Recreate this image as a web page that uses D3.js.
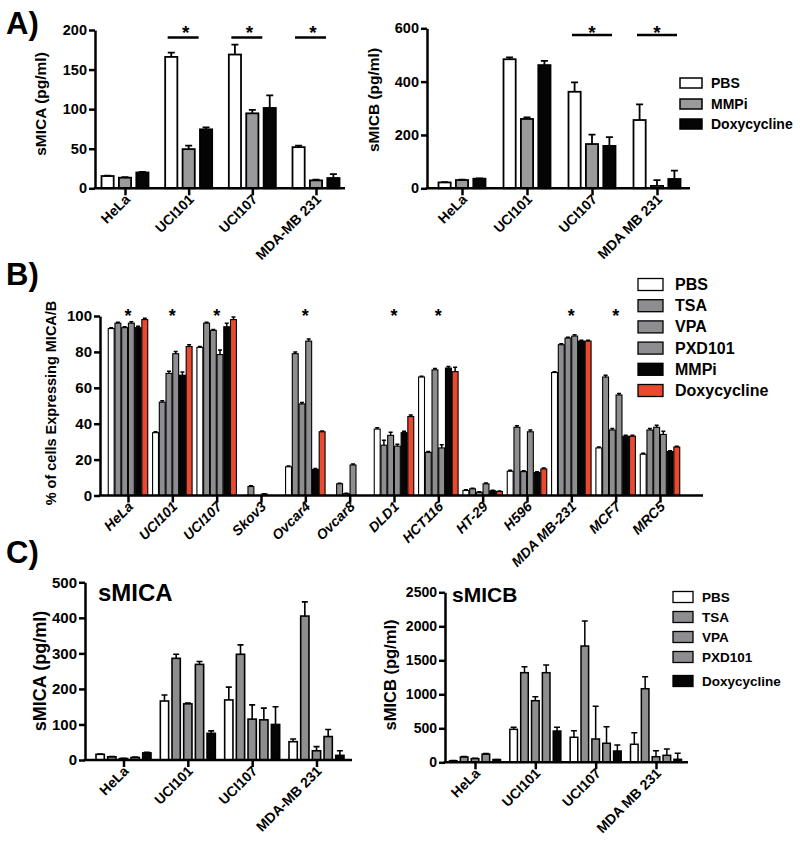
<!DOCTYPE html>
<html><head><meta charset="utf-8">
<script src="https://cdn.jsdelivr.net/npm/d3@7"></script>
<style>
body{margin:0;background:#fff}
svg{display:block}
text{font-family:"Liberation Sans",Arial,Helvetica,sans-serif;font-weight:bold;fill:#000}
</style>
</head><body>
<svg id="c" width="800" height="849"></svg>
<script>
// ---------- Panel A (sMICA / sMICB) ----------
const groupsA1 = ["HeLa","UCI101","UCI107","MDA-MB 231"];
const groupsA2 = ["HeLa","UCI101","UCI107","MDA MB 231"];
const seriesA = ["PBS","MMPi","Doxycycline"];
const aMicaPBS = [15.5,166,169,52],  aMicaPBSErr = [0.6,5.5,12.5,2];
const aMicaMMPi = [13.4,49.5,94.7,10], aMicaMMPiErr = [0.6,4.3,4.3,1];
const aMicaDoxy = [20,74.5,101.5,13], aMicaDoxyErr = [0.8,2.5,16,5];
const aMicaTicks = [0,50,100,150,200];
const aMicaStars = ["UCI101","UCI107","MDA-MB 231"];
const aMicbPBS = [22,484,362,256],  aMicbPBSErr = [1,7,35,59];
const aMicbMMPi = [31,260,166,9],   aMicbMMPiErr = [1,6,35,22];
const aMicbDoxy = [36,462,159,35],  aMicbDoxyErr = [1,16,33,31];
const aMicbTicks = [0,200,400,600];
const aMicbStars = ["UCI107","MDA MB 231"];

// ---------- Panel B (% cells expressing MICA/B) ----------
const groupsB = ["HeLa","UCI101","UCI107","Skov3","Ovcar4","Ovcar8","DLD1","HCT116","HT-29","H596","MDA MB-231","MCF7","MRC5"];
const seriesB = ["PBS","TSA","VPA","PXD101","MMPi","Doxycycline"];
const bPBS  = [93,35,82.5,0,16,0,37,66,2.8,13.5,68.5,26.5,23];
const bTSA  = [96,52,96,5,79,6.5,28,24,3.7,38,84,66,36.5];
const bVPA  = [93.5,68,92,0,51,1,33.5,70,1.8,13.3,87.7,36.5,38];
const bPXD  = [96,79,78.5,0.8,86,17,27.5,26.5,6.5,35.5,88.8,56,34];
const bMMPi = [93.5,67,94,0,14.5,0,35,71,2.6,12.8,86,33,24.5];
const bDoxy = [98,83,98,0,35.5,0,44,69,2.2,14.8,86,33,27];
const bPBSErr  = [0.5,0.5,0.5,0,0.5,0,0.8,0.5,0.4,0.5,0.5,0.5,0.6];
const bTSAErr  = [0.5,0.8,0.5,0.4,1,0.3,2.8,0.5,0.4,0.8,0.5,1,0.8];
const bVPAErr  = [0.5,1.2,0.5,0,0.8,0.2,1.8,0.8,0.3,0.5,0.5,0.8,1.2];
const bPXDErr  = [0.8,1.2,2.5,0.2,1.2,0.5,1,1.8,0.5,1,0.8,0.8,1.8];
const bMMPiErr = [0.8,1.8,2,0,0.5,0,0.8,0.8,0.3,0.5,0.5,0.5,0.5];
const bDoxyErr = [0.8,1,1.5,0,0.5,0,0.8,2.5,0.3,0.5,0.5,0.5,0.5];
const bTicks = [0,20,40,60,80,100];
const bStars = ["HeLa","UCI101","UCI107","Ovcar4","DLD1","HCT116","MDA MB-231","MCF7"];

// ---------- Panel C (HDAC inhibitors) ----------
const groupsC1 = ["HeLa","UCI101","UCI107","MDA-MB 231"];
const groupsC2 = ["HeLa","UCI101","UCI107","MDA MB 231"];
const seriesC = ["PBS","TSA","VPA","PXD101","Doxycycline"];
const cMicaPBS = [16,166,169,51.5],   cMicaPBSErr = [1,17,36,7.5];
const cMicaTSA = [9,286,297.5,405],   cMicaTSAErr = [1,11.5,26.5,40];
const cMicaVPA = [4,158,115,26],      cMicaVPAErr = [0.5,2,40,11.5];
const cMicaPXD = [7,269,113,66],      cMicaPXDErr = [1,8,33,20];
const cMicaDoxy = [20,75,100,13],     cMicaDoxyErr = [1.5,7,50,13];
const cMicaTicks = [0,100,200,300,400,500];
const cMicbPBS = [22,485,368,265],    cMicbPBSErr = [3,30,97,170];
const cMicbTSA = [78,1318,1710,1082], cMicbTSAErr = [6,88,368,177];
const cMicbVPA = [54,906,343,82],     cMicbVPAErr = [5,59,480,88];
const cMicbPXD = [120,1318,280,103],  cMicbPXDErr = [10,113,244,92];
const cMicbDoxy = [40,460,166,44],    cMicbDoxyErr = [3,55,88,88];
const cMicbTicks = [0,500,1000,1500,2000,2500];

// ---------- drawing ----------
const GREY = "#8e8e90", RED = "#e8492f", BLACK = "#050505", WHITE = "#ffffff";
const svg = d3.select("#c");

function drawPanel(o){
  const g = svg.append("g");
  const x = d3.scalePoint().domain(o.groups).range(o.centers);
  const xs = d3.scaleBand().domain(o.series).range([-o.groupWidth/2, o.groupWidth/2]).paddingInner(o.padInner);
  const y = d3.scaleLinear().domain([0, o.yMax]).range([o.y0, o.y1]);

  o.series.forEach((s, si) => {
    const vals = o.values[si], errs = o.errs[si];
    g.append("g").selectAll("rect").data(o.groups).join("rect")
      .attr("x", d => x(d) + xs(s))
      .attr("width", xs.bandwidth())
      .attr("y", (d,i) => y(vals[i]))
      .attr("height", (d,i) => o.y0 - y(vals[i]))
      .attr("fill", o.colors[si])
      .attr("stroke", "#000")
      .attr("stroke-width", o.barStroke);
    g.append("g").selectAll("path").data(o.groups).join("path")
      .attr("d", (d,i) => {
        if (!errs[i]) return null;
        const cx = x(d) + xs(s) + xs.bandwidth()/2;
        const yt = y(vals[i] + errs[i]);
        return `M${cx},${y(vals[i])}V${yt}M${cx - o.capW/2},${yt}H${cx + o.capW/2}`;
      })
      .attr("fill","none").attr("stroke","#000").attr("stroke-width", o.errStroke);
  });

  // y axis
  const ya = g.append("g").attr("transform", `translate(${o.axisX0},0)`)
    .call(d3.axisLeft(y).tickValues(o.ticks).tickFormat(d3.format("d")).tickSize(6).tickSizeOuter(0).tickPadding(2));
  ya.select(".domain").attr("stroke","#000").attr("stroke-width", o.axisStroke);
  ya.selectAll(".tick line").attr("stroke","#000").attr("stroke-width", o.axisStroke);
  ya.selectAll(".tick text").attr("font-size", o.tickFont).attr("font-family", null).attr("fill","#000");

  // x axis
  g.append("line").attr("x1", o.axisX0 - o.axisStroke/2).attr("x2", o.axisX1)
    .attr("y1", o.y0).attr("y2", o.y0).attr("stroke","#000").attr("stroke-width", o.axisStroke);
  const xa = g.append("g").attr("transform", `translate(0,${o.y0})`)
    .call(d3.axisBottom(x).tickSize(7).tickSizeOuter(0).tickFormat(""));
  xa.select(".domain").remove();
  xa.selectAll(".tick line").attr("stroke","#000").attr("stroke-width", o.axisStroke);

  g.append("g").selectAll("text").data(o.groups).join("text")
    .attr("transform", d => `translate(${x(d) + o.lblDx},${o.y0 + o.lblDy}) rotate(-45)`)
    .attr("text-anchor","end")
    .attr("font-size", o.lblFont)
    .attr("font-style", o.italic ? "italic" : null)
    .text(d => d);

  // y title
  g.append("text")
    .attr("transform", `translate(${o.titleX},${o.titleY}) rotate(-90)`)
    .attr("text-anchor","middle").attr("dominant-baseline","central")
    .attr("font-size", o.titleFont).text(o.title);

  // stars
  if (o.stars) {
    o.stars.forEach(sg => {
      const cx = x(sg);
      if (o.starLine) {
        g.append("line").attr("x1", cx + o.starLine[0]).attr("x2", cx + o.starLine[1])
          .attr("y1", o.starLineY).attr("y2", o.starLineY)
          .attr("stroke","#000").attr("stroke-width", 2.5);
      }
      g.append("text").attr("x", cx + (o.starDx||0)).attr("y", o.starY + 0.57*o.starFont)
        .attr("text-anchor","middle").attr("font-size", o.starFont).text("*");
    });
  }
  return {x, y};
}

function legend(o){
  const g = svg.append("g");
  o.series.forEach((s,i) => {
    const cy = o.rows[i];
    g.append("rect").attr("x", o.x).attr("y", cy - o.h/2).attr("width", o.w).attr("height", o.h)
      .attr("fill", o.colors[i]).attr("stroke","#000").attr("stroke-width", o.stroke);
    g.append("text").attr("x", o.tx).attr("y", cy).attr("dominant-baseline","central")
      .attr("font-size", o.font).text(s);
  });
}

function panelLabel(t, x, y){
  svg.append("text").attr("x", x).attr("y", y).attr("font-size", 31).text(t);
}

// A left
drawPanel({
  groups: groupsA1, series: seriesA,
  values: [aMicaPBS, aMicaMMPi, aMicaDoxy], errs: [aMicaPBSErr, aMicaMMPiErr, aMicaDoxyErr],
  colors: [WHITE, "#9a9a9c", BLACK],
  centers: [125, 316], groupWidth: 47, padInner: 0.3, barStroke: 1.8, capW: 7, errStroke: 1.8,
  yMax: 200, y0: 188.3, y1: 30, ticks: aMicaTicks, axisX0: 95, axisX1: 345, axisStroke: 2.5,
  tickFont: 14.5, lblFont: 14, lblDx: 6, lblDy: 12,
  title: "sMICA (pg/ml)", titleX: 40, titleY: 104, titleFont: 15.5,
  stars: aMicaStars, starY: 28, starFont: 19, starLine: [-21, 10], starLineY: 37.5, starDx: -3
});
// A right
drawPanel({
  groups: groupsA2, series: seriesA,
  values: [aMicbPBS, aMicbMMPi, aMicbDoxy], errs: [aMicbPBSErr, aMicbMMPiErr, aMicbDoxyErr],
  colors: [WHITE, "#9a9a9c", BLACK],
  centers: [462, 657], groupWidth: 47, padInner: 0.3, barStroke: 1.8, capW: 7, errStroke: 1.8,
  yMax: 600, y0: 188.3, y1: 28.3, ticks: aMicbTicks, axisX0: 427, axisX1: 690, axisStroke: 2.5,
  tickFont: 14.5, lblFont: 14, lblDx: 6, lblDy: 12,
  title: "sMICB (pg/ml)", titleX: 373, titleY: 100, titleFont: 15.5,
  stars: aMicbStars, starY: 28, starFont: 19, starLine: [-20, 20], starLineY: 35, starDx: 0
});
legend({series: seriesA, colors: [WHITE, "#9a9a9c", BLACK], rows: [83, 104, 124],
  x: 680, w: 22, h: 10, tx: 711, font: 14, stroke: 1.5});

// B
drawPanel({
  groups: groupsB, series: seriesB,
  values: [bPBS, bTSA, bVPA, bPXD, bMMPi, bDoxy],
  errs: [bPBSErr, bTSAErr, bVPAErr, bPXDErr, bMMPiErr, bDoxyErr],
  colors: [WHITE, GREY, GREY, GREY, BLACK, RED],
  centers: [128, 660], groupWidth: 39.5, padInner: 0.12, barStroke: 1.1, capW: 4, errStroke: 1.5,
  yMax: 100, y0: 495.5, y1: 316, ticks: bTicks, axisX0: 100, axisX1: 703, axisStroke: 2.5,
  tickFont: 15, lblFont: 14, lblDx: 6, lblDy: 12, italic: true,
  title: "% of cells Expressing MICA/B", titleX: 51, titleY: 403, titleFont: 14.5,
  stars: bStars, starY: 312, starFont: 18, starDx: 0
});
legend({series: seriesB, colors: [WHITE, GREY, GREY, GREY, BLACK, RED],
  rows: [284.5, 305.7, 326.9, 348.1, 369.3, 390.5],
  x: 638, w: 25, h: 12, tx: 675, font: 16, stroke: 1.3});

// C left
drawPanel({
  groups: groupsC1, series: seriesC,
  values: [cMicaPBS, cMicaTSA, cMicaVPA, cMicaPXD, cMicaDoxy],
  errs: [cMicaPBSErr, cMicaTSAErr, cMicaVPAErr, cMicaPXDErr, cMicaDoxyErr],
  colors: [WHITE, GREY, GREY, GREY, BLACK],
  centers: [123.5, 316.5], groupWidth: 55, padInner: 0.29, barStroke: 1.6, capW: 6, errStroke: 1.6,
  yMax: 500, y0: 760, y1: 582.3, ticks: cMicaTicks, axisX0: 85, axisX1: 352, axisStroke: 2.5,
  tickFont: 15, lblFont: 14, lblDx: 6, lblDy: 12,
  title: "sMICA (pg/ml)", titleX: 40, titleY: 671, titleFont: 18
});
svg.append("text").attr("x", 98).attr("y", 601).attr("font-size", 24).text("sMICA");

// C right
drawPanel({
  groups: groupsC2, series: seriesC,
  values: [cMicbPBS, cMicbTSA, cMicbVPA, cMicbPXD, cMicbDoxy],
  errs: [cMicbPBSErr, cMicbTSAErr, cMicbVPAErr, cMicbPXDErr, cMicbDoxyErr],
  colors: [WHITE, GREY, GREY, GREY, BLACK],
  centers: [475, 656], groupWidth: 51, padInner: 0.3, barStroke: 1.5, capW: 6, errStroke: 1.5,
  yMax: 2500, y0: 762.3, y1: 592.3, ticks: cMicbTicks, axisX0: 445, axisX1: 688, axisStroke: 2.5,
  tickFont: 14, lblFont: 14, lblDx: 6, lblDy: 12,
  title: "sMICB (pg/ml)", titleX: 390, titleY: 675, titleFont: 16.5
});
svg.append("text").attr("x", 452).attr("y", 602).attr("font-size", 21).text("sMICB");
legend({series: seriesC, colors: [WHITE, GREY, GREY, GREY, BLACK],
  rows: [597, 617, 637, 657, 681],
  x: 673, w: 20, h: 11, tx: 702, font: 13.5, stroke: 1.3});

panelLabel("A)", 6, 34);
panelLabel("B)", 6, 285);
panelLabel("C)", 6, 563);
</script>
</body></html>
